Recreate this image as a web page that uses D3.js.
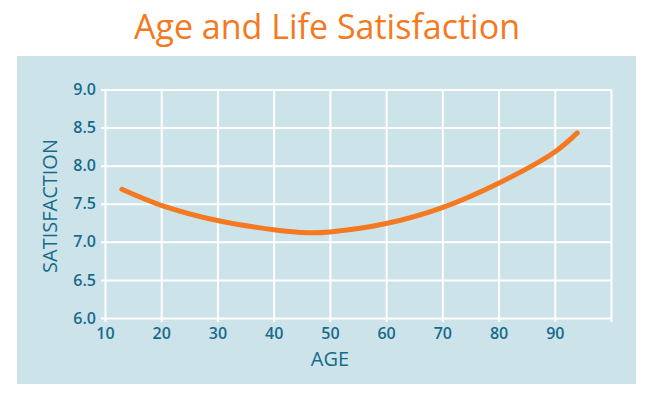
<!DOCTYPE html>
<html>
<head>
  <meta charset="UTF-8">
  <script src="https://cdn.jsdelivr.net/npm/d3@7"></script>
  <style>
    body { margin: 0; background: #fff; }
    text { font-family: "Open Sans", "Noto Sans", sans-serif; }
  </style>
</head>
<body>
<svg width="650" height="397"></svg>
<script>
  // values
  var ages = [13, 20, 30, 40, 46, 50, 60, 70, 80, 90, 94];
  var satisfaction = [7.69, 7.48, 7.28, 7.16, 7.12, 7.13, 7.24, 7.45, 7.77, 8.18, 8.43];
  var xTicks = [10, 20, 30, 40, 50, 60, 70, 80, 90, 100];
  var yTicks = [6.0, 6.5, 7.0, 7.5, 8.0, 8.5, 9.0];

  var teal = "#156b8c";
  var orange = "#f47920";

  var svg = d3.select("svg");

  svg.append("rect")
      .attr("x", 17).attr("y", 56)
      .attr("width", 619).attr("height", 328)
      .attr("fill", "#cde3ea");

  svg.append("text")
      .attr("x", 327).attr("y", 39)
      .attr("text-anchor", "middle")
      .attr("font-size", 34)
      .attr("fill", orange)
      .text("Age and Life Satisfaction");

  var x = d3.scaleLinear().domain([10, 100]).range([105, 611]);
  var y = d3.scaleLinear().domain([6, 9]).range([318, 89.5]);

  // grid + ticks
  var xAxis = svg.append("g")
      .attr("transform", "translate(0," + y(9) + ")")
      .call(d3.axisBottom(x).tickValues(xTicks)
        .tickSize(y(6) - y(9) + 4).tickFormat(function(d) { return d === 100 ? "" : d; }));
  xAxis.select(".domain").remove();
  xAxis.selectAll("line").attr("stroke", "#fff").attr("stroke-width", 2);
  xAxis.selectAll("text")
      .attr("fill", teal).attr("font-size", 16).attr("font-weight", 600)
      .attr("dy", "0.71em").attr("y", y(6) - y(9) + 10);

  var yAxis = svg.append("g")
      .attr("transform", "translate(" + x(100) + ",0)")
      .call(d3.axisLeft(y).tickValues(yTicks)
        .tickSize(x(100) - x(10) + 4).tickFormat(d3.format(".1f")));
  yAxis.select(".domain").remove();
  yAxis.selectAll("line").attr("stroke", "#fff").attr("stroke-width", 2);
  yAxis.selectAll("text")
      .attr("fill", teal).attr("font-size", 16).attr("font-weight", 600)
      .attr("x", -(x(100) - x(10) + 9));

  svg.selectAll(".tick text").attr("font-family", "'Open Sans', 'Noto Sans', sans-serif");

  var line = d3.line()
      .x(function(d, i) { return x(ages[i]); })
      .y(function(d) { return y(d); })
      .curve(d3.curveCatmullRom);

  svg.append("path")
      .datum(satisfaction)
      .attr("d", line)
      .attr("fill", "none")
      .attr("stroke", orange)
      .attr("stroke-width", 5)
      .attr("stroke-linecap", "round");

  svg.append("text")
      .attr("x", 330).attr("y", 366)
      .attr("text-anchor", "middle")
      .attr("font-size", 20)
      .attr("fill", teal)
      .text("AGE");

  svg.append("text")
      .attr("transform", "translate(57,206) rotate(-90)")
      .attr("text-anchor", "middle")
      .attr("font-size", 20)
      .attr("fill", teal)
      .text("SATISFACTION");
</script>
</body>
</html>
